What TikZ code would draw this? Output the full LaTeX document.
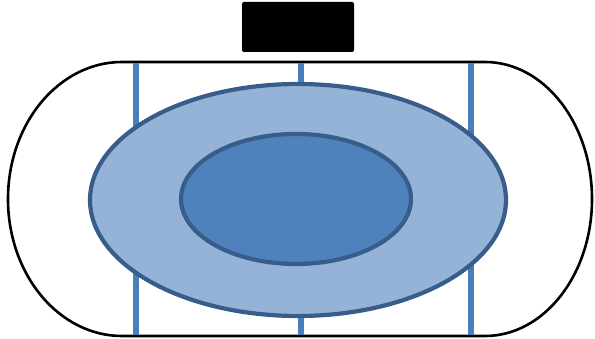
\documentclass[tikz,border=0pt]{standalone}
\usepackage{xcolor}
\definecolor{rail}{HTML}{4A7EBB}
\definecolor{rim}{HTML}{385D8A}
\definecolor{outerfill}{HTML}{95B3D7}
\definecolor{innerfill}{HTML}{4F81BD}
\usepackage{tikz}
\usetikzlibrary{positioning}

\begin{document}
\begin{tikzpicture}[x=1pt,y=-1pt,
  track/.style={draw=black,line width=2.6pt},
  railline/.style={draw=rail,line width=6.5pt},
  zone/.style={draw=rim,line width=4.2pt},
  panel/.style={fill=black,rounded corners=2pt}]
\useasboundingbox (0,0) rectangle (595,339);
% outer track
\draw[track] (122,62) -- (485,62) arc[start angle=270,end angle=450,x radius=107,y radius=137]
  -- (122,336) arc[start angle=90,end angle=270,x radius=114,y radius=137] -- cycle;
% vertical rails
\foreach \x in {136,301,471}
  \draw[railline] (\x,63) -- (\x,335);
% zones
\draw[zone,fill=outerfill] (298,200) ellipse[x radius=208,y radius=116];
\draw[zone,fill=innerfill] (296,199) ellipse[x radius=115,y radius=65];
% top panel
\fill[panel] (242,2) rectangle (354,52);
\end{tikzpicture}
\end{document}
